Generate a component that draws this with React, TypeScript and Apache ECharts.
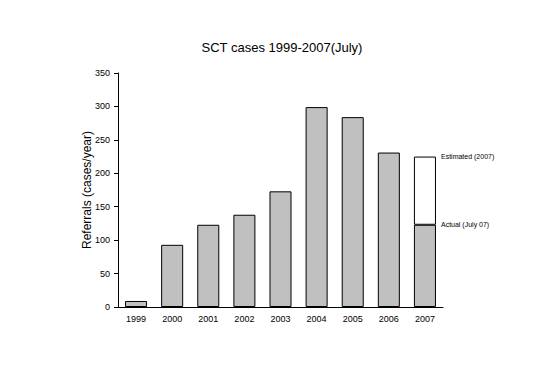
import React, { useEffect, useRef } from "react";
import * as echarts from "echarts";

const years = ["1999", "2000", "2001", "2002", "2003", "2004", "2005", "2006", "2007"];
const actualCases = [9, 93, 123, 138, 173, 299, 284, 231, 123];
const estimatedExtra = [null, null, null, null, null, null, null, null, 102];
const yTicks = { min: 0, max: 350, interval: 50 };
const labelActual = "Actual (July 07)";
const labelEstimated = "Estimated (2007)";

export default function App() {
  const ref = useRef<HTMLDivElement>(null);
  useEffect(() => {
    if (!ref.current) return;
    const chart = echarts.init(ref.current, null, { renderer: "svg" });
    const font = "Liberation Sans";
    const lastIdx = years.length - 1;
    const segLabel = (text: string) => ({
      show: true,
      formatter: text,
      position: "insideTopRight",
      distance: 0,
      align: "left",
      verticalAlign: "middle",
      offset: [5, 0],
      fontFamily: font,
      fontSize: 7,
      color: "#000000",
    });
    chart.setOption({
      animation: false,
      backgroundColor: "#ffffff",
      title: {
        text: "SCT cases 1999-2007(July)",
        left: 277,
        top: 36,
        textAlign: "center",
        textStyle: { fontFamily: font, fontSize: 13, fontWeight: "normal", color: "#000" },
      },
      grid: { left: 118, right: 110, top: 73, bottom: 84 },
      xAxis: {
        type: "category",
        data: years,
        axisLine: { lineStyle: { color: "#000", width: 1 } },
        axisTick: { alignWithLabel: true, length: 4, lineStyle: { color: "#000" } },
        axisLabel: { fontFamily: font, fontSize: 9, color: "#000", margin: 7 },
      },
      yAxis: {
        type: "value",
        min: yTicks.min,
        max: yTicks.max,
        interval: yTicks.interval,
        name: "Referrals (cases/year)",
        nameLocation: "middle",
        nameGap: 25,
        nameMoveOverlap: false,
        nameTextStyle: { fontFamily: font, fontSize: 12, color: "#000" },
        axisLine: { show: true, lineStyle: { color: "#000", width: 1 } },
        axisTick: { show: true, length: 4, lineStyle: { color: "#000" } },
        axisLabel: { fontFamily: font, fontSize: 9, color: "#000", margin: 8 },
        splitLine: { show: false },
      },
      series: [
        {
          type: "bar",
          stack: "total",
          barCategoryGap: "39%",
          data: actualCases.map((v, i) =>
            i === lastIdx ? { value: v, label: segLabel(labelActual) } : v
          ),
          itemStyle: { color: "#c0c0c0", borderColor: "#000", borderWidth: 1 },
        },
        {
          type: "bar",
          stack: "total",
          data: estimatedExtra.map((v, i) =>
            i === lastIdx ? { value: v, label: segLabel(labelEstimated) } : v
          ),
          itemStyle: { color: "#ffffff", borderColor: "#000", borderWidth: 1 },
        },
      ],
    });
    return () => chart.dispose();
  }, []);
  return <div ref={ref} style={{ width: 553, height: 391, margin: -8 }} />;
}
